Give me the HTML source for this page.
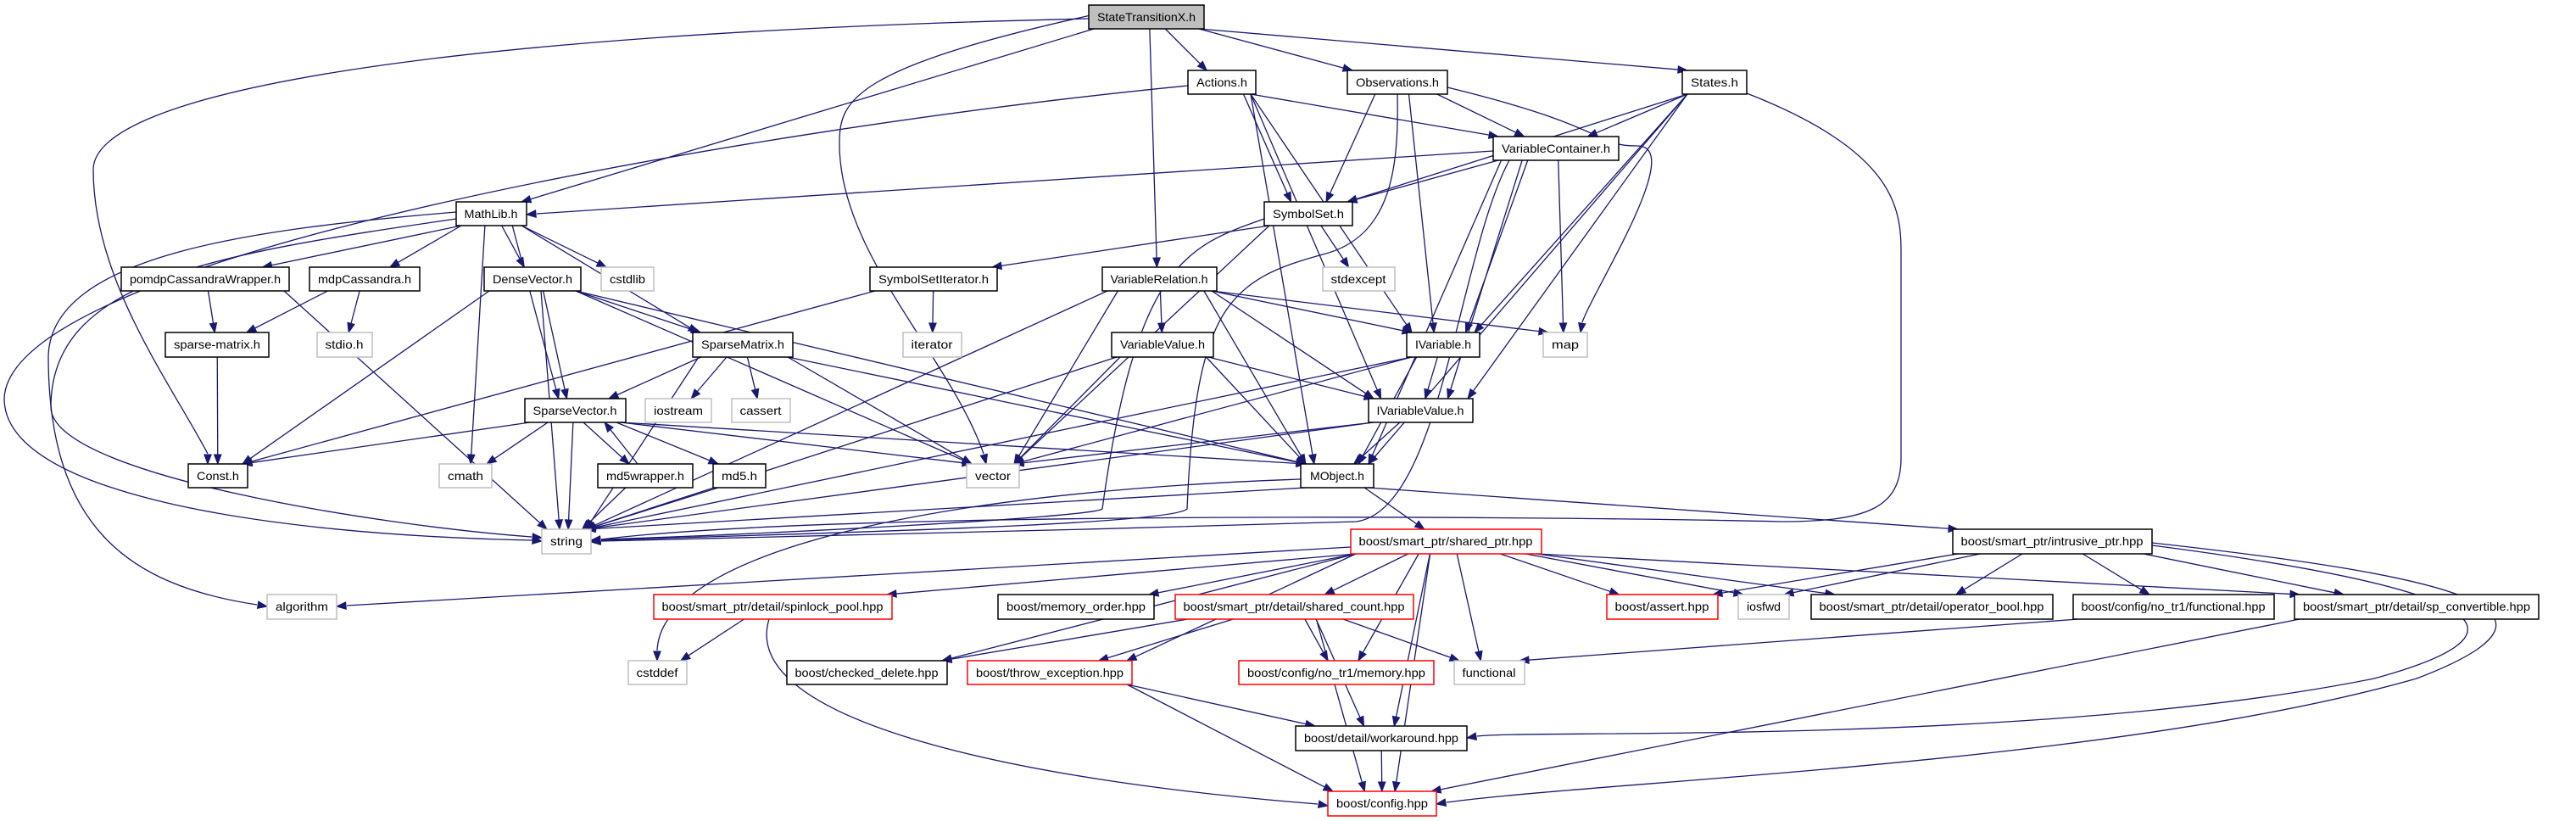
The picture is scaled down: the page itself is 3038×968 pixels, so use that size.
<!DOCTYPE html>
<html><head><meta charset="utf-8">
<style>
html,body{margin:0;padding:0;background:#fff;}
svg{display:block;}
text{font-family:"Liberation Sans","DejaVu Sans",sans-serif;font-size:14px;fill:#000;}
</style></head>
<body>
<svg id="g" width="3038" height="968" viewBox="0 0 3038 968" xmlns="http://www.w3.org/2000/svg">
<g id="edges" fill="none" stroke="#191970" stroke-width="1.3"></g>
<g id="heads" fill="#191970" stroke="#191970" stroke-width="1"></g>
<g id="nodes">
<rect x="1284" y="6" width="136" height="28" fill="#bfbfbf" stroke="#000" stroke-width="1.5"/><text x="1352" y="25" text-anchor="middle" textLength="116" lengthAdjust="spacingAndGlyphs">StateTransitionX.h</text>
<rect x="1401" y="83" width="80" height="28" fill="#fff" stroke="#000" stroke-width="1.5"/><text x="1441" y="102" text-anchor="middle" textLength="60" lengthAdjust="spacingAndGlyphs">Actions.h</text>
<rect x="1589" y="83" width="118" height="28" fill="#fff" stroke="#000" stroke-width="1.5"/><text x="1648" y="102" text-anchor="middle" textLength="98" lengthAdjust="spacingAndGlyphs">Observations.h</text>
<rect x="1984" y="83" width="76" height="28" fill="#fff" stroke="#000" stroke-width="1.5"/><text x="2022" y="102" text-anchor="middle" textLength="56" lengthAdjust="spacingAndGlyphs">States.h</text>
<rect x="1761" y="161" width="148" height="28" fill="#fff" stroke="#000" stroke-width="1.5"/><text x="1835" y="180" text-anchor="middle" textLength="128" lengthAdjust="spacingAndGlyphs">VariableContainer.h</text>
<rect x="538" y="238" width="83" height="28" fill="#fff" stroke="#000" stroke-width="1.5"/><text x="579" y="257" text-anchor="middle" textLength="63" lengthAdjust="spacingAndGlyphs">MathLib.h</text>
<rect x="1491" y="238" width="104" height="28" fill="#fff" stroke="#000" stroke-width="1.5"/><text x="1543" y="257" text-anchor="middle" textLength="84" lengthAdjust="spacingAndGlyphs">SymbolSet.h</text>
<rect x="143" y="315" width="198" height="28" fill="#fff" stroke="#000" stroke-width="1.5"/><text x="242" y="334" text-anchor="middle" textLength="178" lengthAdjust="spacingAndGlyphs">pomdpCassandraWrapper.h</text>
<rect x="365" y="315" width="130" height="28" fill="#fff" stroke="#000" stroke-width="1.5"/><text x="430" y="334" text-anchor="middle" textLength="110" lengthAdjust="spacingAndGlyphs">mdpCassandra.h</text>
<rect x="571" y="315" width="114" height="28" fill="#fff" stroke="#000" stroke-width="1.5"/><text x="628" y="334" text-anchor="middle" textLength="94" lengthAdjust="spacingAndGlyphs">DenseVector.h</text>
<rect x="709" y="315" width="62" height="28" fill="#fff" stroke="#bfbfbf" stroke-width="1.5"/><text x="740" y="334" text-anchor="middle" textLength="42" lengthAdjust="spacingAndGlyphs">cstdlib</text>
<rect x="1026" y="315" width="150" height="28" fill="#fff" stroke="#000" stroke-width="1.5"/><text x="1101" y="334" text-anchor="middle" textLength="130" lengthAdjust="spacingAndGlyphs">SymbolSetIterator.h</text>
<rect x="1300" y="315" width="135" height="28" fill="#fff" stroke="#000" stroke-width="1.5"/><text x="1367" y="334" text-anchor="middle" textLength="115" lengthAdjust="spacingAndGlyphs">VariableRelation.h</text>
<rect x="1560" y="315" width="85" height="28" fill="#fff" stroke="#bfbfbf" stroke-width="1.5"/><text x="1602" y="334" text-anchor="middle" textLength="65" lengthAdjust="spacingAndGlyphs">stdexcept</text>
<rect x="195" y="392" width="122" height="29" fill="#fff" stroke="#000" stroke-width="1.5"/><text x="256" y="411" text-anchor="middle" textLength="102" lengthAdjust="spacingAndGlyphs">sparse-matrix.h</text>
<rect x="374" y="392" width="65" height="29" fill="#fff" stroke="#bfbfbf" stroke-width="1.5"/><text x="406" y="411" text-anchor="middle" textLength="45" lengthAdjust="spacingAndGlyphs">stdio.h</text>
<rect x="817" y="392" width="118" height="29" fill="#fff" stroke="#000" stroke-width="1.5"/><text x="876" y="411" text-anchor="middle" textLength="98" lengthAdjust="spacingAndGlyphs">SparseMatrix.h</text>
<rect x="1065" y="392" width="69" height="29" fill="#fff" stroke="#bfbfbf" stroke-width="1.5"/><text x="1099" y="411" text-anchor="middle" textLength="49" lengthAdjust="spacingAndGlyphs">iterator</text>
<rect x="1311" y="392" width="120" height="29" fill="#fff" stroke="#000" stroke-width="1.5"/><text x="1371" y="411" text-anchor="middle" textLength="100" lengthAdjust="spacingAndGlyphs">VariableValue.h</text>
<rect x="1659" y="392" width="86" height="29" fill="#fff" stroke="#000" stroke-width="1.5"/><text x="1702" y="411" text-anchor="middle" textLength="66" lengthAdjust="spacingAndGlyphs">IVariable.h</text>
<rect x="1820" y="392" width="52" height="29" fill="#fff" stroke="#bfbfbf" stroke-width="1.5"/><text x="1846" y="411" text-anchor="middle" textLength="32" lengthAdjust="spacingAndGlyphs">map</text>
<rect x="619" y="470" width="119" height="28" fill="#fff" stroke="#000" stroke-width="1.5"/><text x="678" y="489" text-anchor="middle" textLength="99" lengthAdjust="spacingAndGlyphs">SparseVector.h</text>
<rect x="761" y="470" width="78" height="28" fill="#fff" stroke="#bfbfbf" stroke-width="1.5"/><text x="800" y="489" text-anchor="middle" textLength="58" lengthAdjust="spacingAndGlyphs">iostream</text>
<rect x="863" y="470" width="69" height="28" fill="#fff" stroke="#bfbfbf" stroke-width="1.5"/><text x="897" y="489" text-anchor="middle" textLength="49" lengthAdjust="spacingAndGlyphs">cassert</text>
<rect x="1614" y="470" width="123" height="28" fill="#fff" stroke="#000" stroke-width="1.5"/><text x="1675" y="489" text-anchor="middle" textLength="103" lengthAdjust="spacingAndGlyphs">IVariableValue.h</text>
<rect x="222" y="547" width="70" height="28" fill="#fff" stroke="#000" stroke-width="1.5"/><text x="257" y="566" text-anchor="middle" textLength="50" lengthAdjust="spacingAndGlyphs">Const.h</text>
<rect x="518" y="547" width="62" height="28" fill="#fff" stroke="#bfbfbf" stroke-width="1.5"/><text x="549" y="566" text-anchor="middle" textLength="42" lengthAdjust="spacingAndGlyphs">cmath</text>
<rect x="705" y="547" width="112" height="28" fill="#fff" stroke="#000" stroke-width="1.5"/><text x="761" y="566" text-anchor="middle" textLength="92" lengthAdjust="spacingAndGlyphs">md5wrapper.h</text>
<rect x="841" y="547" width="62" height="28" fill="#fff" stroke="#000" stroke-width="1.5"/><text x="872" y="566" text-anchor="middle" textLength="42" lengthAdjust="spacingAndGlyphs">md5.h</text>
<rect x="1140" y="547" width="62" height="28" fill="#fff" stroke="#bfbfbf" stroke-width="1.5"/><text x="1171" y="566" text-anchor="middle" textLength="42" lengthAdjust="spacingAndGlyphs">vector</text>
<rect x="1534" y="547" width="86" height="28" fill="#fff" stroke="#000" stroke-width="1.5"/><text x="1577" y="566" text-anchor="middle" textLength="64" lengthAdjust="spacingAndGlyphs">MObject.h</text>
<rect x="639" y="624" width="58" height="29" fill="#fff" stroke="#bfbfbf" stroke-width="1.5"/><text x="668" y="643" text-anchor="middle" textLength="38" lengthAdjust="spacingAndGlyphs">string</text>
<rect x="1593" y="624" width="225" height="29" fill="#fff" stroke="#ff0000" stroke-width="1.5"/><text x="1705" y="643" text-anchor="middle" textLength="205" lengthAdjust="spacingAndGlyphs">boost/smart_ptr/shared_ptr.hpp</text>
<rect x="2303" y="624" width="235" height="29" fill="#fff" stroke="#000" stroke-width="1.5"/><text x="2420" y="643" text-anchor="middle" textLength="215" lengthAdjust="spacingAndGlyphs">boost/smart_ptr/intrusive_ptr.hpp</text>
<rect x="315" y="701" width="82" height="29" fill="#fff" stroke="#bfbfbf" stroke-width="1.5"/><text x="356" y="720" text-anchor="middle" textLength="62" lengthAdjust="spacingAndGlyphs">algorithm</text>
<rect x="771" y="701" width="281" height="29" fill="#fff" stroke="#ff0000" stroke-width="1.5"/><text x="911" y="720" text-anchor="middle" textLength="261" lengthAdjust="spacingAndGlyphs">boost/smart_ptr/detail/spinlock_pool.hpp</text>
<rect x="1177" y="701" width="184" height="29" fill="#fff" stroke="#000" stroke-width="1.5"/><text x="1269" y="720" text-anchor="middle" textLength="164" lengthAdjust="spacingAndGlyphs">boost/memory_order.hpp</text>
<rect x="1386" y="701" width="281" height="29" fill="#fff" stroke="#ff0000" stroke-width="1.5"/><text x="1526" y="720" text-anchor="middle" textLength="261" lengthAdjust="spacingAndGlyphs">boost/smart_ptr/detail/shared_count.hpp</text>
<rect x="1895" y="701" width="131" height="29" fill="#fff" stroke="#ff0000" stroke-width="1.5"/><text x="1960" y="720" text-anchor="middle" textLength="111" lengthAdjust="spacingAndGlyphs">boost/assert.hpp</text>
<rect x="2050" y="701" width="60" height="29" fill="#fff" stroke="#bfbfbf" stroke-width="1.5"/><text x="2080" y="720" text-anchor="middle" textLength="40" lengthAdjust="spacingAndGlyphs">iosfwd</text>
<rect x="2136" y="701" width="285" height="29" fill="#fff" stroke="#000" stroke-width="1.5"/><text x="2278" y="720" text-anchor="middle" textLength="265" lengthAdjust="spacingAndGlyphs">boost/smart_ptr/detail/operator_bool.hpp</text>
<rect x="2445" y="701" width="237" height="29" fill="#fff" stroke="#000" stroke-width="1.5"/><text x="2563" y="720" text-anchor="middle" textLength="217" lengthAdjust="spacingAndGlyphs">boost/config/no_tr1/functional.hpp</text>
<rect x="2706" y="701" width="288" height="29" fill="#fff" stroke="#000" stroke-width="1.5"/><text x="2850" y="720" text-anchor="middle" textLength="268" lengthAdjust="spacingAndGlyphs">boost/smart_ptr/detail/sp_convertible.hpp</text>
<rect x="741" y="779" width="69" height="28" fill="#fff" stroke="#bfbfbf" stroke-width="1.5"/><text x="775" y="798" text-anchor="middle" textLength="49" lengthAdjust="spacingAndGlyphs">cstddef</text>
<rect x="928" y="779" width="189" height="28" fill="#fff" stroke="#000" stroke-width="1.5"/><text x="1022" y="798" text-anchor="middle" textLength="169" lengthAdjust="spacingAndGlyphs">boost/checked_delete.hpp</text>
<rect x="1141" y="779" width="194" height="28" fill="#fff" stroke="#ff0000" stroke-width="1.5"/><text x="1238" y="798" text-anchor="middle" textLength="174" lengthAdjust="spacingAndGlyphs">boost/throw_exception.hpp</text>
<rect x="1461" y="779" width="230" height="28" fill="#fff" stroke="#ff0000" stroke-width="1.5"/><text x="1576" y="798" text-anchor="middle" textLength="210" lengthAdjust="spacingAndGlyphs">boost/config/no_tr1/memory.hpp</text>
<rect x="1715" y="779" width="83" height="28" fill="#fff" stroke="#bfbfbf" stroke-width="1.5"/><text x="1756" y="798" text-anchor="middle" textLength="63" lengthAdjust="spacingAndGlyphs">functional</text>
<rect x="1528" y="856" width="202" height="29" fill="#fff" stroke="#000" stroke-width="1.5"/><text x="1629" y="875" text-anchor="middle" textLength="182" lengthAdjust="spacingAndGlyphs">boost/detail/workaround.hpp</text>
<rect x="1566" y="933" width="128" height="29" fill="#fff" stroke="#ff0000" stroke-width="1.5"/><text x="1630" y="952" text-anchor="middle" textLength="108" lengthAdjust="spacingAndGlyphs">boost/config.hpp</text>
</g>
</svg>
<script>
var B={
STX:[1284,6,1420,34],Act:[1401,83,1481,111],Obs:[1589,83,1707,111],Sta:[1984,83,2060,111],
VC:[1761,161,1909,189],ML:[538,238,621,266],SS:[1491,238,1595,266],
pomdp:[143,315,341,343],mdpC:[365,315,495,343],DV:[571,315,685,343],cstdlib:[709,315,771,343],
SSI:[1026,315,1176,343],VR:[1300,315,1435,343],stdexcept:[1560,315,1645,343],
spm:[195,392,317,421],stdio:[374,392,439,421],SM:[817,392,935,421],iterator:[1065,392,1134,421],
VV:[1311,392,1431,421],IV:[1659,392,1745,421],map:[1820,392,1872,421],
SV:[619,470,738,498],iostream:[761,470,839,498],cassert:[863,470,932,498],IVV:[1614,470,1737,498],
Const:[222,547,292,575],cmath:[518,547,580,575],md5w:[705,547,817,575],md5:[841,547,903,575],
vector:[1140,547,1202,575],MO:[1534,547,1620,575],string:[639,624,697,653],
shp:[1593,624,1818,653],ip:[2303,624,2538,653],algorithm:[315,701,397,730],spin:[771,701,1052,730],
mo:[1177,701,1361,730],sc:[1386,701,1667,730],assert:[1895,701,2026,730],iosfwd:[2050,701,2110,730],
ob:[2136,701,2421,730],nf:[2445,701,2682,730],spc:[2706,701,2994,730],cstddef:[741,779,810,807],
cd:[928,779,1117,807],te:[1141,779,1335,807],nm:[1461,779,1691,807],functional:[1715,779,1798,807],
wa:[1528,856,1730,885],cfg:[1566,933,1694,962]};
var E=[
['STX','ML'],['STX','Act'],['STX','Obs'],['STX','Sta'],['STX','VR'],
['Act','VC'],['Act','SS'],['Act','IV'],['Act','IVV'],['Act','MO'],
['Obs','SS'],['Obs','VC'],['Obs','IV'],
['Sta','SS'],['Sta','VC'],['Sta','IV'],['Sta','IVV'],['Sta','MO'],
['VC','SS'],['VC','IV'],['VC','map'],['VC','IVV'],['VC','MO'],
['ML','pomdp'],['ML','mdpC'],['ML','DV'],['ML','cstdlib'],['ML','cmath'],['ML','SM'],['ML','SV'],
['SS','SSI'],['SS','stdexcept'],['SS','vector'],
['pomdp','spm'],['pomdp','string'],['mdpC','spm'],['mdpC','stdio'],['spm','Const'],
['DV','Const'],['DV','string'],['DV','SV'],['DV','SM'],['DV','vector'],['DV','MO'],
['SSI','iterator'],['SSI','Const'],
['VR','VV'],['VR','IV'],['VR','IVV'],['VR','MO'],['VR','vector'],['VR','string'],['VR','map'],
['VV','string'],['VV','vector'],['VV','MO'],['VV','IVV'],
['SM','SV'],['SM','iostream'],['SM','cassert'],['SM','vector'],['SM','MO'],['SM','string'],
['IV','vector'],['IV','IVV'],['IV','MO'],['IV','string'],
['SV','Const'],['SV','cmath'],['SV','md5w'],['SV','md5'],['SV','string'],['SV','vector'],['SV','MO'],
['md5w','SV'],['md5w','string'],['md5','string'],
['IVV','vector'],['IVV','MO'],['IVV','string'],
['MO','string'],['MO','shp'],['MO','ip'],
['shp','spin'],['shp','mo'],['shp','sc'],['shp','cd'],['shp','te'],['shp','nm'],['shp','functional'],
['shp','wa'],['shp','cfg'],['shp','assert'],['shp','iosfwd'],['shp','ob'],['shp','spc'],
['ip','assert'],['ip','iosfwd'],['ip','ob'],['ip','nf'],['ip','spc'],
['spin','cstddef'],['sc','cd'],['sc','te'],['sc','nm'],['sc','functional'],['sc','wa'],['sc','cfg'],
['te','wa'],['te','cfg'],['nf','functional'],['spc','cfg'],['wa','cfg']
];
var custom=[
["M1284,22 C500,40 110,110 110,200 C110,330 200,450 245,535",[245,547]],
["M1401,101 C900,150 10,300 5,470 C5,580 300,630 627,637",[639,638]],
["M538,250 C300,270 60,300 57,420 C57,620 150,690 303,713",[315,715]],
["M538,258 C250,300 60,330 60,480 C60,560 450,620 627,633",[639,634]],
["M1300,15 C1000,80 990,120 990,170 C990,300 1120,420 1160,535",[1163,547]],
["M2060,110 C2240,180 2242,250 2242,300 L2242,540 C2242,600 2200,615 2100,615 C1900,610 1000,600 709,636",[697,638]],
["M1534,565 C1100,580 780,650 775,767",[775,779]],
["M1593,645 C1000,680 600,700 409,714",[397,715]],
["M2538,640 C2900,680 3060,720 2850,800 C2500,900 1900,920 1706,946",[1694,948]],
["M2538,643 C2900,690 3020,740 2800,800 C2400,880 1800,860 1742,868",[1730,870]],
["M907,730 C870,850 1200,920 1554,948",[1566,950]],
["M1707,103 C1900,150 1880,172 1930,172 C1990,170 1880,340 1866,380",[1864,392]],
["M1761,178 L633,252",[621,253]],
["M1491,258 C1400,290 1340,310 1300,600 C1290,610 900,630 709,636",[697,637]],
["M1780,189 C1720,300 1700,600 1600,615 C1300,625 900,632 709,638",[697,639]],
["M1648,111 C1650,200 1640,280 1560,300 C1450,330 1410,360 1400,600 C1380,620 900,630 709,637",[697,638]]
];
var ns='http://www.w3.org/2000/svg',eg=document.getElementById('edges'),hg=document.getElementById('heads');
function P(d){var p=document.createElementNS(ns,'path');p.setAttribute('d',d);eg.appendChild(p);}
function head(fx,fy,tx,ty){var dx=tx-fx,dy=ty-fy,l=Math.sqrt(dx*dx+dy*dy)||1;dx/=l;dy/=l;
var bx=tx-dx*11,by=ty-dy*11,px=-dy*4.2,py=dx*4.2;
var p=document.createElementNS(ns,'polygon');p.setAttribute('points',tx+','+ty+' '+(bx+px)+','+(by+py)+' '+(bx-px)+','+(by-py));hg.appendChild(p);}
function cl(v,a,b){return Math.max(a,Math.min(b,v));}
custom.forEach(function(c){P(c[0]);var m=c[0].match(/[-\d.]+,[-\d.]+/g);var q=m[m.length-1].split(',');head(+q[0],+q[1],c[1][0],c[1][1]);});
E.forEach(function(e){var s=B[e[0]],t=B[e[1]];if(!s||!t)return;
var scx=(s[0]+s[2])/2,tcx=(t[0]+t[2])/2,sw=(s[2]-s[0])/2-6,tw=(t[2]-t[0])/2-6;
var sx=scx+cl((tcx-scx)*0.25,-sw,sw),tx=tcx+cl((scx-tcx)*0.2,-tw,tw);var sy,ty;
if(t[1]>=s[3]){sy=s[3];ty=t[1];}else{sy=s[1];ty=t[3];}
if(e[0]=='md5w'&&e[1]=='SV'){sx=752;tx=713;}
if(e[0]=='SV'&&e[1]=='md5w'){sx=688;tx=742;}
var dx=tx-sx,dy=ty-sy,l=Math.sqrt(dx*dx+dy*dy)||1,ux=dx/l,uy=dy/l;
var ex=tx-ux*11,ey=ty-uy*11;
P('M'+sx+','+sy+' L'+ex+','+ey);
head(ex,ey,tx,ty);});
</script>
</body></html>
